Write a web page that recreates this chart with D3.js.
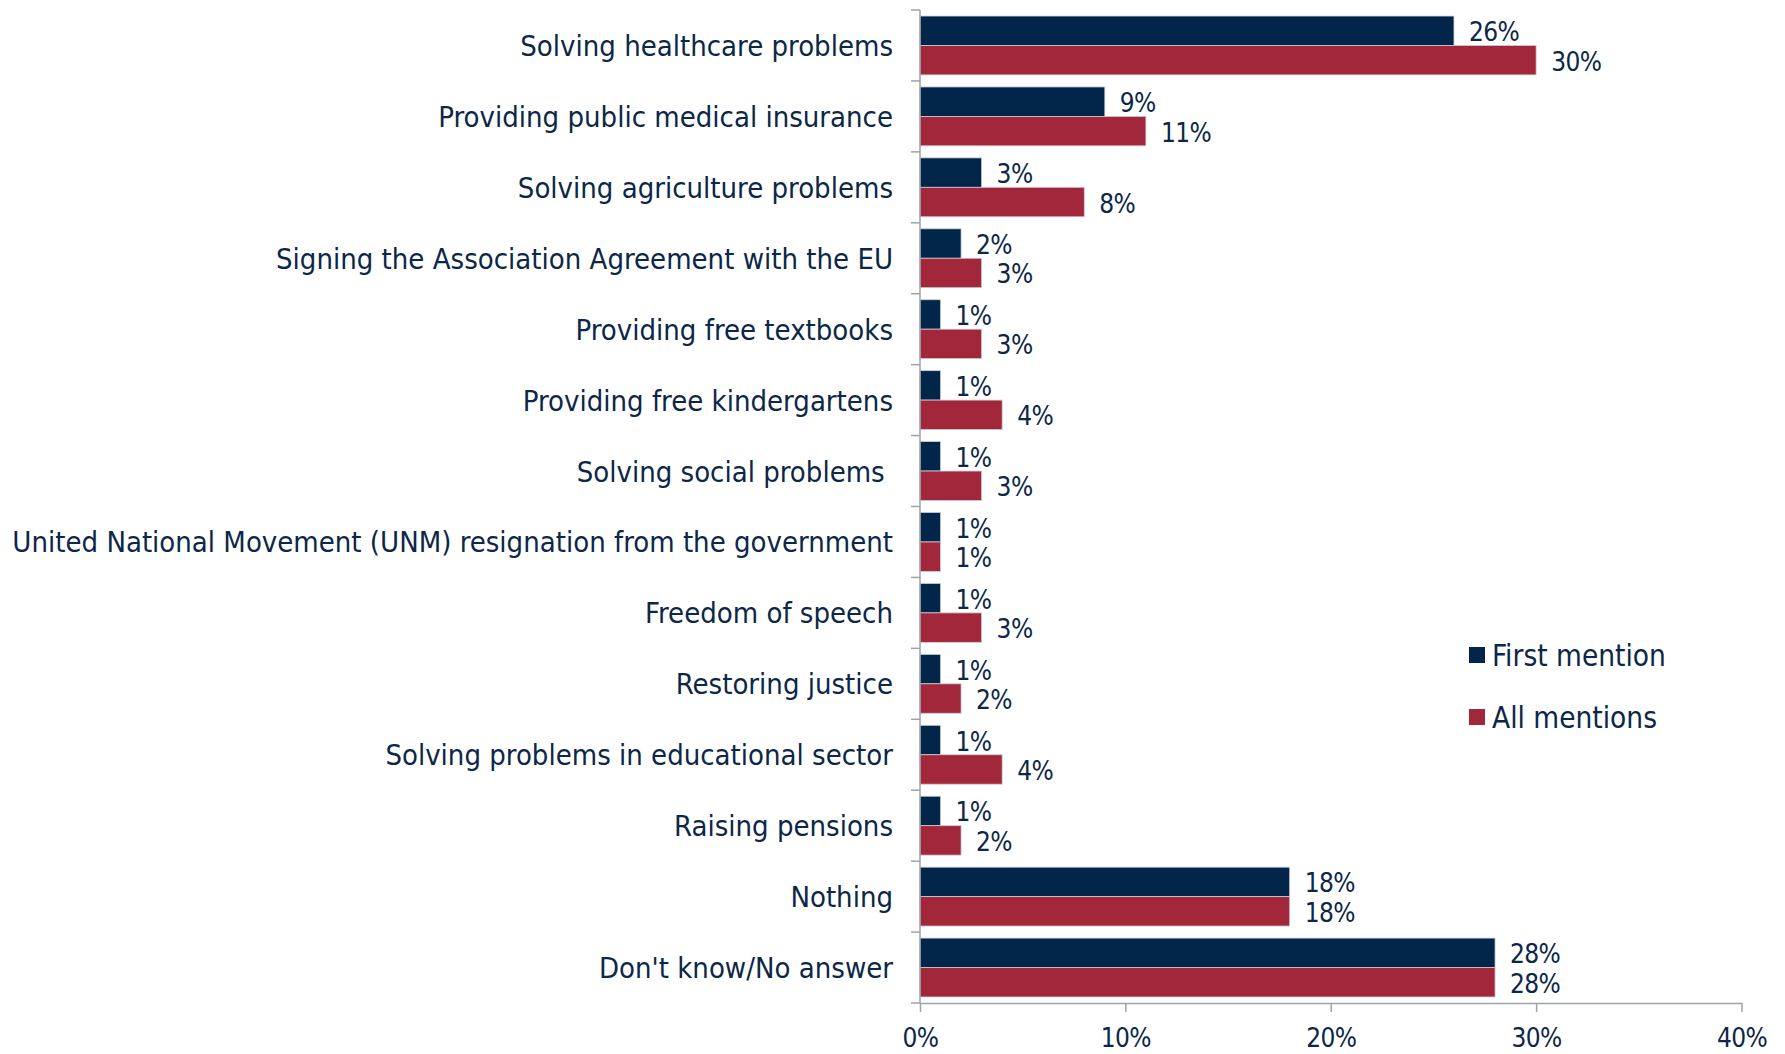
<!DOCTYPE html>
<html><head><meta charset="utf-8">
<script src="https://cdn.jsdelivr.net/npm/d3@7"></script>
<style>
html,body{margin:0;padding:0;background:#fff;}
svg text{font-family:"DejaVu Sans Condensed","DejaVu Sans",sans-serif;font-stretch:condensed;fill:#0C2747;}
</style></head>
<body><svg id="c" width="1785" height="1054"></svg>
<script>
const categories = [
  "Solving healthcare problems",
  "Providing public medical insurance",
  "Solving agriculture problems",
  "Signing the Association Agreement with the EU",
  "Providing free textbooks",
  "Providing free kindergartens",
  "Solving social problems ",
  "United National Movement (UNM) resignation from the government",
  "Freedom of speech",
  "Restoring justice",
  "Solving problems in educational sector",
  "Raising pensions",
  "Nothing",
  "Don't know/No answer"
];
const firstMention = [26, 9, 3, 2, 1, 1, 1, 1, 1, 1, 1, 1, 18, 28];
const allMentions  = [30, 11, 8, 3, 3, 4, 3, 1, 3, 2, 4, 2, 18, 28];
const seriesNames = ["First mention", "All mentions"];
const xTicks = [0, 10, 20, 30, 40];

const colors = ["#022649", "#A3273A"];
const svg = d3.select("#c");
const mLeft = 920, mRight = 1741.5, mTop = 10, mBottom = 1003;
const x = d3.scaleLinear().domain([0, 40]).range([mLeft, mRight]);
const y = d3.scaleBand().domain(categories).range([mTop, mBottom]).paddingInner(0.17).paddingOuter(0.085);
const series = [firstMention, allMentions];
const ySub = d3.scaleBand().domain([0, 1]).range([0, y.bandwidth()]);

const g = svg.append("g");
categories.forEach((c, i) => {
  series.forEach((s, k) => {
    g.append("rect")
      .attr("x", x(0))
      .attr("y", y(c) + ySub(k))
      .attr("width", x(s[i]) - x(0))
      .attr("height", ySub.bandwidth())
      .attr("fill", colors[k])
      .attr("stroke", "#c9ced6")
      .attr("stroke-width", 0.8);
    g.append("text")
      .attr("x", x(s[i]) + 15)
      .attr("y", y(c) + ySub(k) + ySub.bandwidth() / 2 + 3)
      .attr("dominant-baseline", "middle")
      .attr("font-size", 26)
      .attr("letter-spacing", -0.6)
      .text(s[i] + "%");
  });
});

// x axis
const xa = svg.append("g").attr("transform", `translate(0,${mBottom})`)
  .call(d3.axisBottom(x).tickValues(xTicks).tickFormat(d => d + "%").tickSize(9).tickSizeOuter(0).tickPadding(17));
xa.select(".domain").attr("stroke", "#9ea3a8").attr("stroke-width", 1.5);
xa.selectAll(".tick line").attr("stroke", "#9ea3a8").attr("stroke-width", 1.5);
xa.selectAll(".tick text").attr("font-size", 26).attr("letter-spacing", -0.6).attr("font-family", null);

// y axis
const yEdges = d3.range(categories.length + 1).map(i => mTop + i * (mBottom - mTop) / categories.length);
svg.append("line").attr("x1", mLeft).attr("x2", mLeft).attr("y1", mTop).attr("y2", mBottom)
  .attr("stroke", "#9ea3a8").attr("stroke-width", 1.5);
yEdges.forEach(v => svg.append("line").attr("x1", mLeft - 9).attr("x2", mLeft).attr("y1", v).attr("y2", v)
  .attr("stroke", "#9ea3a8").attr("stroke-width", 1.5));
categories.forEach(c => {
  svg.append("text")
    .attr("x", 893)
    .attr("y", y(c) + y.bandwidth() / 2 + 2.5)
    .attr("text-anchor", "end")
    .attr("dominant-baseline", "middle")
    .attr("font-size", 29)
    .style("white-space", "pre")
    .text(c);
});

// legend
const leg = svg.append("g");
seriesNames.forEach((n, k) => {
  const cy = 655 + k * 62;
  leg.append("rect").attr("x", 1469).attr("y", cy - 8).attr("width", 16).attr("height", 16).attr("fill", colors[k]);
  leg.append("text").attr("x", 1492).attr("y", cy + 2).attr("dominant-baseline", "middle").attr("font-size", 29.5).text(n);
});
</script></body></html>
